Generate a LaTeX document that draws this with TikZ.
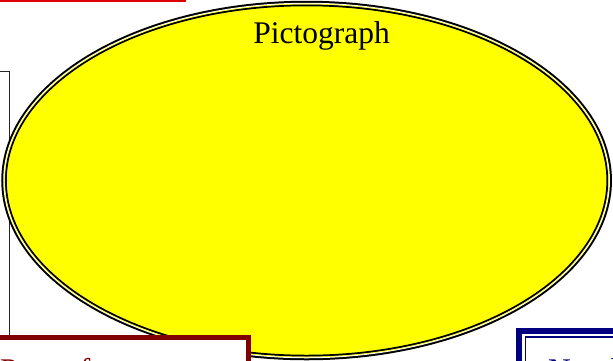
\documentclass[tikz,border=0pt]{standalone}
\usepackage{fontspec}
\setmainfont{Liberation Serif}
\usetikzlibrary{shapes.geometric}
\definecolor{topred}{HTML}{DD0000}
\definecolor{maroonc}{HTML}{800000}
\definecolor{navyc}{HTML}{000080}
\definecolor{yel}{HTML}{FFFF00}
\tikzset{
  boxa/.style={rectangle, inner sep=0pt, outer sep=0pt},
  bigfont/.style={font=\fontsize{31.5}{36}\selectfont, inner sep=0pt}
}
\begin{document}
\begin{tikzpicture}[x=1pt,y=-1pt]
\useasboundingbox (0,0) rectangle (613,360);
\clip (0,0) rectangle (613,360);
% top-left red box (only its lower edge shows)
\node[boxa, draw=topred, line width=2.4pt, minimum width=204.8pt, minimum height=61.2pt] (redbox) at (82.4,-29.45) {};
% left black box
\node[boxa, draw=black!85, line width=1.1pt, minimum width=29.5pt, minimum height=328.5pt] (leftbox) at (-5.25,235.75) {};
% ellipse
\node[ellipse, draw=black, line width=2pt, double=white, double distance=1.5pt, fill=yel, minimum width=605.2pt, minimum height=354pt, inner sep=0pt] (pic) at (306.6,180.5) {};
\draw[yel, line width=0.6pt] (pic.center) ellipse [x radius=302.1pt, y radius=176.5pt];
\node[bigfont, anchor=base] (pictxt) at (321.5,43) {Pictograph};
% bottom-left dark red box
\node[boxa, draw=maroonc, line width=5pt, fill=white, minimum width=278.2pt, minimum height=82.5pt] (mbox) at (109.1,378.75) {};
\node[bigfont, anchor=base west, text=maroonc] (mtxt) at (0,380) {Pros of};
% bottom-right navy box
\node[boxa, draw=navyc, line width=5.5pt, fill=white, minimum width=130.75pt, minimum height=89.25pt] (nbox) at (584.6,375.4) {};
\node[boxa, draw=navyc, line width=1.8pt, minimum width=124.5pt, minimum height=83pt] (nboxin) at (587.75,378.5) {};
\node[bigfont, anchor=base west, text=navyc] (ntxt) at (548,380) {Number};
\end{tikzpicture}
\end{document}
